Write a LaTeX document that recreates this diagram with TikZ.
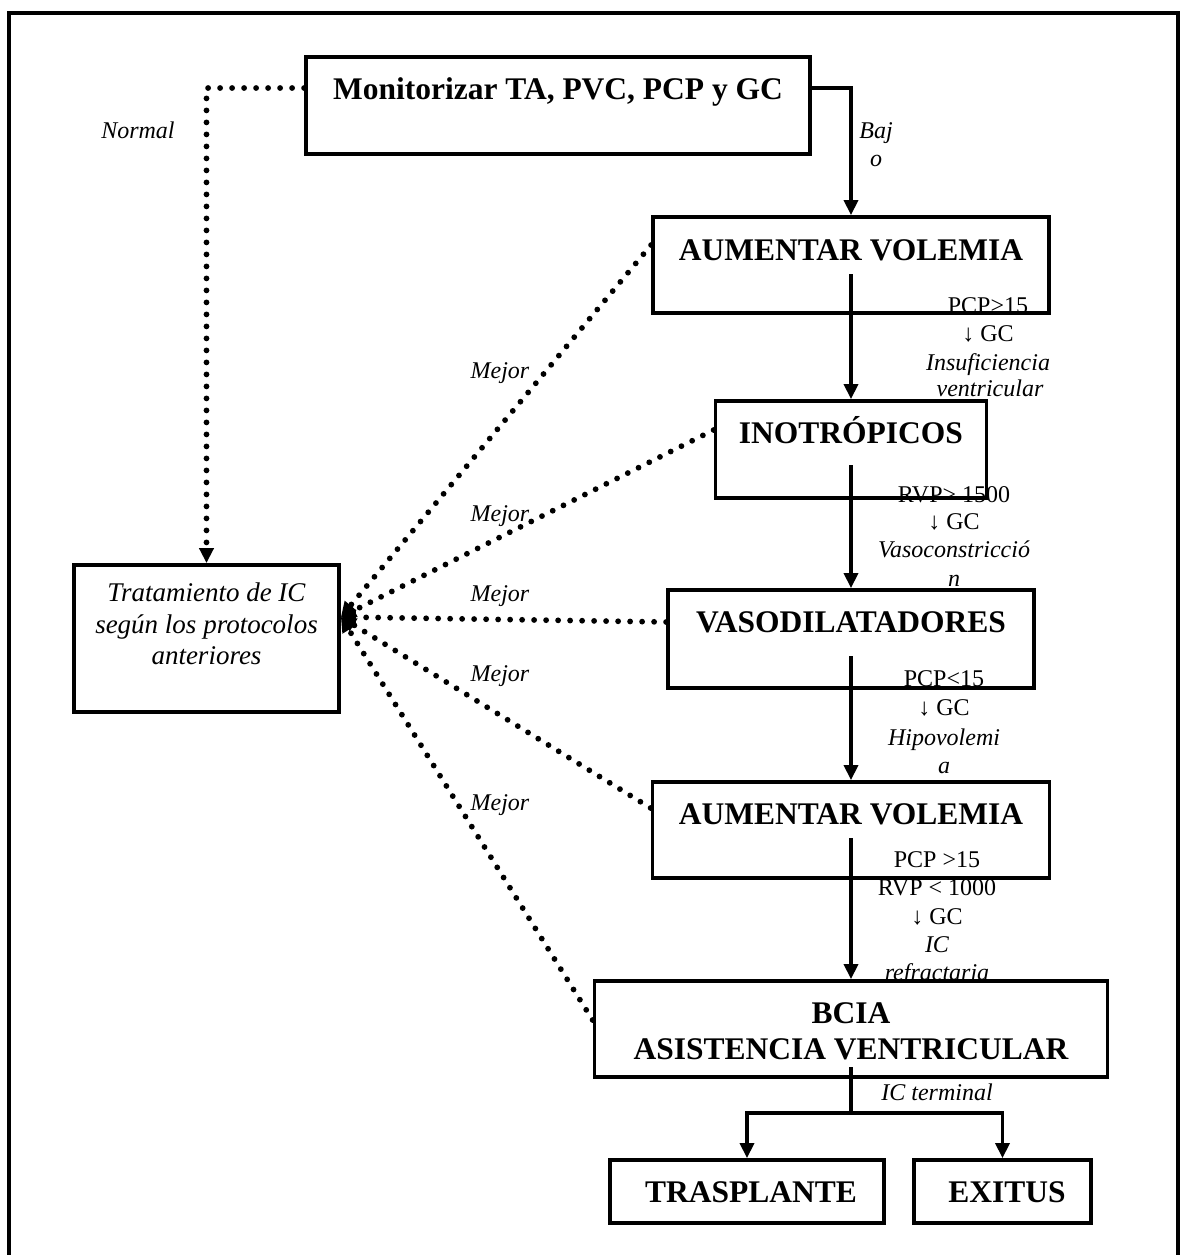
\documentclass[tikz,border=0pt]{standalone}
\usepackage{fontspec}
\setmainfont{Liberation Serif}
\usetikzlibrary{arrows.meta}
\begin{document}
\begin{tikzpicture}[x=0.5pt,y=-0.5pt,
  box/.style={draw, line width=1.9pt, fill=white, inner sep=0pt},
  boxtext/.style={font=\fontsize{15.75}{18}\selectfont\bfseries, inner sep=0pt, text height=10.5pt, text depth=0pt},
  lab/.style={font=\fontsize{12}{14.4}\selectfont, inner sep=0pt, text height=8pt, text depth=0pt},
  ilab/.style={lab, font=\fontsize{12}{14.4}\selectfont\itshape},
  flow/.style={line width=1.7pt, -{Triangle[length=7.5pt,width=7pt]}},
  solid line/.style={line width=1.7pt},
  dots/.style={line width=2.9pt, line cap=round, dash pattern=on 0pt off 6pt,
               -{Triangle[length=7.5pt,width=7pt]}},
]
\useasboundingbox (0,0) rectangle (1181,1255);
\clip (0,0) rectangle (1181,1255);

% outer frame
\draw[line width=2pt] (9,1270) -- (9,12.5) -- (1178,12.5) -- (1178,1270);

% condition labels partly hidden behind the boxes
\node[lab]  (l4b) at (937,887) {RVP < 1000};
\node[ilab] (l1d) at (990,388) {ventricular};
\node[ilab] (l4e) at (937,972) {refractaria};

% boxes
\node[box, minimum width=252pt, minimum height=48.5pt] (mon)  at (558,105.5) {};
\node[box, minimum width=198pt, minimum height=48pt]   (av1)  at (851,265) {};
\node[box, minimum width=135.5pt, minimum height=48.5pt] (ino) at (851,449.5) {};
\node[box, minimum width=183pt, minimum height=49pt]   (vaso) at (851,639) {};
\node[box, minimum width=198.5pt, minimum height=48pt] (av2)  at (851,830) {};
\node[box, minimum width=256.5pt, minimum height=48pt] (bcia) at (851,1029) {};
\node[box, minimum width=137pt, minimum height=31.5pt] (tras) at (747,1191.5) {};
\node[box, minimum width=88.5pt, minimum height=31.5pt] (exit) at (1002.5,1191.5) {};
\node[box, minimum width=132.5pt, minimum height=73.5pt] (trat) at (206.5,638.5) {};

% box texts
\node[boxtext] (mont)  at (558,89)  {Monitorizar TA, PVC, PCP y GC};
\node[boxtext] (av1t)  at (851,250) {AUMENTAR VOLEMIA};
\node[boxtext] (inot)  at (851,433) {INOTRÓPICOS};
\node[boxtext] (vasot) at (851,622) {VASODILATADORES};
\node[boxtext] (av2t)  at (851,814) {AUMENTAR VOLEMIA};
\node[boxtext] (bct1)  at (851,1013) {BCIA};
\node[boxtext] (bct2)  at (851,1049) {ASISTENCIA VENTRICULAR};
\node[boxtext] (trast) at (751,1192) {TRASPLANTE};
\node[boxtext] (exitt) at (1007,1192) {EXITUS};
\node[font=\fontsize{13.5}{15.75}\selectfont\itshape, align=center, inner sep=0pt]
  (tratt) at (206.5,624) {Tratamiento de IC\\según los protocolos\\anteriores};

% condition labels
\node[ilab] (normal) at (138,130) {Normal};
\node[ilab] (baj1) at (876,130) {Baj};
\node[ilab] (baj2) at (876,158) {o};

\node[lab]  (l1a) at (988,305) {PCP>15};
\node[lab]  (l1b) at (988,333) {↓ GC};
\node[ilab] (l1c) at (988,362) {Insuficiencia};

\node[lab]  (l2a) at (954,494) {RVP> 1500};
\node[lab]  (l2b) at (954,521) {↓ GC};
\node[ilab] (l2c) at (954,549) {Vasoconstricció};
\node[ilab] (l2d) at (954,578) {n};

\node[lab]  (l3a) at (944,678) {PCP<15};
\node[lab]  (l3b) at (944,707) {↓ GC};
\node[ilab] (l3c) at (944,737) {Hipovolemi};
\node[ilab] (l3d) at (944,765) {a};

\node[lab]  (l4a) at (937,859) {PCP >15};
\node[lab]  (l4c) at (937,916) {↓ GC};
\node[ilab] (l4d) at (937,944) {IC};

\node[ilab] (term) at (937,1092) {IC terminal};

\node[ilab] (m1) at (500,370) {Mejor};
\node[ilab] (m2) at (500,513) {Mejor};
\node[ilab] (m3) at (500,593) {Mejor};
\node[ilab] (m4) at (500,673) {Mejor};
\node[ilab] (m5) at (500,802) {Mejor};

% main sequence
\draw[flow] ([yshift=8.75pt]mon.east) -| (av1.north);
\draw[flow] ([yshift=-4.5pt]av1.center) -- (ino.north);
\draw[flow] ([yshift=-7.75pt]ino.center) -- (vaso.north);
\draw[flow] ([yshift=-8.5pt]vaso.center) -- (av2.north);
\draw[flow] ([yshift=-4pt]av2.center) -- (bcia.north);
\coordinate (br) at (851,1113);
\draw[solid line] ([yshift=-19pt]bcia.center) -- (br);
\draw[flow] (br) -| (tras.north);
\draw[flow] (br) -| (exit.north);

% improvement paths back to standard treatment
\draw[dots] ([yshift=8.75pt]mon.west) -| (trat.north);
\coordinate (fan) at ([yshift=10.75pt]trat.east);
\draw[dots] ([yshift=10pt]av1.west)  -- (fan);
\draw[dots] ([yshift=9.75pt]ino.west) -- (fan);
\draw[dots] ([yshift=8.5pt]vaso.west) -- (fan);
\draw[dots] ([yshift=11pt]av2.west)  -- (fan);
\draw[dots] ([yshift=4.5pt]bcia.west) -- (fan);
\end{tikzpicture}
\end{document}
